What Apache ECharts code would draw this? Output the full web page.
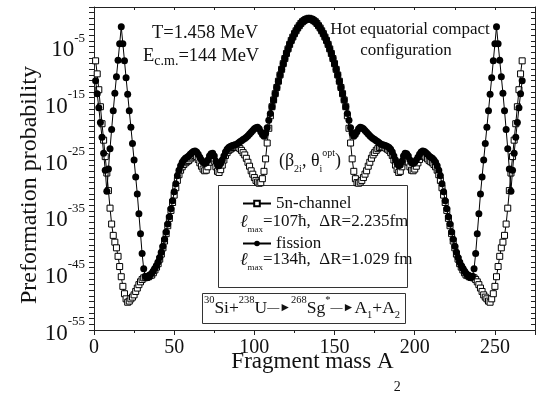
<!DOCTYPE html>
<html>
<head>
<meta charset="utf-8">
<script src="https://cdn.jsdelivr.net/npm/echarts@6/dist/echarts.min.js"></script>
<style>
  html, body { margin: 0; padding: 0; background: #fff; }
  #chart { width: 536px; height: 394px; }
</style>
</head>
<body>
<div id="chart"></div>
<script>
// fragment mass A2 of the first point, the others follow at every integer mass
const firstMass = 1;

// log10 of the preformation probability, 5n-channel (open squares)
const logP5n = [
  -7.5, -9.8, -12.6, -15.6, -18.6, -21.5, -24.4, -27.3, -30.4, -33.5,
  -36.3, -38.3, -39.5, -40.5, -42.0, -43.8, -45.6, -47.3, -48.6, -49.5,
  -50.1, -49.9, -49.5, -49.2, -48.8, -48.2, -47.6, -47.0, -46.5, -46.1,
  -45.8, -45.7, -45.7, -45.6, -45.4, -45.3, -44.9, -44.4, -43.9, -43.3,
  -42.5, -41.6, -40.5, -39.3, -38.0, -36.6, -35.3, -33.9, -32.5, -31.2,
  -29.9, -28.6, -27.6, -26.8, -26.2, -25.8, -25.5, -25.3, -25.1, -24.8,
  -24.5, -24.3, -24.2, -24.4, -24.9, -25.5, -26.1, -26.6, -26.9, -26.8,
  -26.2, -25.4, -24.8, -24.7, -25.2, -26.2, -27.0, -27.2, -26.7, -25.9,
  -25.0, -24.2, -23.7, -23.3, -23.1, -22.9, -22.8, -22.7, -22.7, -22.8,
  -23.0, -23.3, -23.7, -24.1, -24.7, -25.4, -26.1, -26.9, -27.5, -28.1,
  -28.6, -28.9, -29.1, -29.0, -28.3, -27.0, -24.8, -22.0, -19.4, -17.2,
  -15.6, -14.4, -13.3, -12.2, -11.1, -10.0, -9.0, -8.0, -7.1, -6.2,
  -5.4, -4.6, -3.9, -3.3, -2.7, -2.2, -1.7, -1.3, -0.9, -0.6,
  -0.4, -0.2, -0.1, 0.0, -0.1, -0.2, -0.4, -0.6, -0.9, -1.3,
  -1.7, -2.2, -2.7, -3.3, -3.9, -4.6, -5.4, -6.2, -7.1, -8.0,
  -9.0, -10.0, -11.1, -12.2, -13.3, -14.4, -15.6, -17.2, -19.4, -22.0,
  -24.8, -27.0, -28.3, -29.0, -29.1, -28.9, -28.6, -28.1, -27.5, -26.9,
  -26.1, -25.4, -24.7, -24.1, -23.7, -23.3, -23.0, -22.8, -22.7, -22.7,
  -22.8, -22.9, -23.1, -23.3, -23.7, -24.2, -25.0, -25.9, -26.7, -27.2,
  -27.0, -26.2, -25.2, -24.7, -24.8, -25.4, -26.2, -26.8, -26.9, -26.6,
  -26.1, -25.5, -24.9, -24.4, -24.2, -24.3, -24.5, -24.8, -25.1, -25.3,
  -25.5, -25.8, -26.2, -26.8, -27.6, -28.6, -29.9, -31.2, -32.5, -33.9,
  -35.3, -36.6, -38.0, -39.3, -40.5, -41.6, -42.5, -43.3, -43.9, -44.4,
  -44.9, -45.3, -45.4, -45.6, -45.7, -45.7, -45.8, -46.1, -46.5, -47.0,
  -47.6, -48.2, -48.8, -49.2, -49.5, -49.9, -50.1, -49.5, -48.6, -47.3,
  -45.6, -43.8, -42.0, -40.5, -39.5, -38.3, -36.3, -33.5, -30.4, -27.3,
  -24.4, -21.5, -18.6, -15.6, -12.6, -9.8, -7.5
];

// log10 of the preformation probability, fission (filled circles)
const logPFission = [
  -11.0, -13.3, -15.8, -18.4, -21.0, -23.8, -26.8, -30.5, -26.6, -23.0,
  -19.6, -16.3, -13.2, -10.3, -7.4, -4.5, -1.5, -4.5, -7.5, -10.5,
  -13.4, -16.3, -19.2, -22.1, -25.0, -28.0, -31.0, -34.5, -38.0, -41.5,
  -44.2, -45.5, -45.8, -45.6, -45.3, -45.0, -44.6, -44.1, -43.6, -43.0,
  -42.2, -41.3, -40.2, -39.0, -37.7, -36.3, -35.0, -33.6, -32.2, -30.6,
  -29.2, -27.8, -26.8, -26.0, -25.4, -25.0, -24.7, -24.5, -24.3, -24.0,
  -23.7, -23.5, -23.4, -23.6, -24.0, -24.5, -25.0, -25.4, -25.6, -25.5,
  -25.0, -24.3, -23.9, -23.8, -24.3, -25.2, -25.9, -26.0, -25.6, -25.0,
  -24.3, -23.6, -23.1, -22.8, -22.6, -22.5, -22.4, -22.3, -22.2, -22.0,
  -21.8, -21.6, -21.4, -21.2, -21.0, -20.7, -20.4, -20.1, -19.8, -19.5,
  -19.3, -19.2, -19.5, -20.0, -20.5, -20.8, -20.3, -19.3, -18.0, -16.8,
  -15.6, -14.4, -13.3, -12.2, -11.1, -10.0, -9.0, -8.0, -7.1, -6.2,
  -5.4, -4.6, -3.9, -3.3, -2.7, -2.2, -1.7, -1.3, -0.9, -0.6,
  -0.4, -0.2, -0.1, 0.0, -0.1, -0.2, -0.4, -0.6, -0.9, -1.3,
  -1.7, -2.2, -2.7, -3.3, -3.9, -4.6, -5.4, -6.2, -7.1, -8.0,
  -9.0, -10.0, -11.1, -12.2, -13.3, -14.4, -15.6, -16.8, -18.0, -19.3,
  -20.3, -20.8, -20.5, -20.0, -19.5, -19.2, -19.3, -19.5, -19.8, -20.1,
  -20.4, -20.7, -21.0, -21.2, -21.4, -21.6, -21.8, -22.0, -22.2, -22.3,
  -22.4, -22.5, -22.6, -22.8, -23.1, -23.6, -24.3, -25.0, -25.6, -26.0,
  -25.9, -25.2, -24.3, -23.8, -23.9, -24.3, -25.0, -25.5, -25.6, -25.4,
  -25.0, -24.5, -24.0, -23.6, -23.4, -23.5, -23.7, -24.0, -24.3, -24.5,
  -24.7, -25.0, -25.4, -26.0, -26.8, -27.8, -29.2, -30.6, -32.2, -33.6,
  -35.0, -36.3, -37.7, -39.0, -40.2, -41.3, -42.2, -43.0, -43.6, -44.1,
  -44.6, -45.0, -45.3, -45.6, -45.8, -45.5, -44.2, -41.5, -38.0, -34.5,
  -31.0, -28.0, -25.0, -22.1, -19.2, -16.3, -13.4, -10.5, -7.5, -4.5,
  -1.5, -4.5, -7.4, -10.3, -13.2, -16.3, -19.6, -23.0, -26.6, -30.5,
  -26.8, -23.8, -21.0, -18.4, -15.8, -13.3, -11.0
];

const seriesNames = ["5n-channel", "fission"];
const xTickLabels = [0, 50, 100, 150, 200, 250];
const yLabelExponents = [-55, -45, -35, -25, -15, -5];

const FONT = "Liberation Serif";
const INK = "#111";

const toPoints = (values) => values.map((v, i) => [firstMass + i, v]);

const chart = echarts.init(document.getElementById("chart"));

const frameAxis = {
    axisLine: { show: true, onZero: false, lineStyle: { color: "#222", width: 1 } },
    splitLine: { show: false },
    axisLabel: { show: false },
};

const option = {
    animation: false,
    backgroundColor: "#fff",
    grid: { left: 94, right: 1, top: 7, bottom: 64, containLabel: false, outerBoundsMode: "none" },
    xAxis: [
        {
            type: "value",
            position: "bottom",
            min: 0,
            max: 275,
            interval: 50,
            axisLine: { show: true, onZero: false, lineStyle: { color: "#222", width: 1 } },
            axisTick: { show: true, length: 5, lineStyle: { color: "#222" } },
            minorTick: { show: true, splitNumber: 2, length: 3, lineStyle: { color: "#222" } },
            splitLine: { show: false },
            axisLabel: {
                margin: 8,
                fontSize: 20,
                fontFamily: FONT,
                color: INK,
                formatter: (v) => (xTickLabels.includes(v) ? String(v) : ""),
            },
        },
        {
            ...frameAxis,
            type: "value",
            position: "top",
            min: 0,
            max: 275,
            interval: 25,
            axisTick: { show: true, inside: true, length: 3, lineStyle: { color: "#222" } },
        },
    ],
    yAxis: [
        {
            type: "value",
            position: "left",
            min: -55,
            max: 2,
            interval: 1,
            axisLine: { show: true, onZero: false, lineStyle: { color: "#222", width: 1 } },
            axisTick: { show: true, length: 5, lineStyle: { color: "#222" } },
            splitLine: { show: false },
            axisLabel: {
                margin: 9,
                color: INK,
                formatter: (v) => {
                    const e = Math.round(v);
                    return yLabelExponents.includes(e) ? "{b|10}{s|" + e + "}" : "";
                },
                rich: {
                    b: { fontSize: 23, fontFamily: FONT, color: INK, lineHeight: 30, verticalAlign: "bottom" },
                    s: { fontSize: 13, fontFamily: FONT, color: INK, lineHeight: 13, verticalAlign: "top" },
                },
            },
        },
        {
            ...frameAxis,
            type: "value",
            position: "right",
            min: -55,
            max: 2,
            interval: 1,
            axisTick: { show: true, inside: true, length: 4, lineStyle: { color: "#222" } },
        },
    ],
    legend: {
        orient: "vertical",
        left: 237,
        top: 190,
        itemGap: 23,
        itemWidth: 28,
        itemHeight: 7,
        z: 20,
        textStyle: { fontSize: 17, fontFamily: FONT, color: INK },
        data: seriesNames,
    },
    series: [
        {
            name: seriesNames[0],
            type: "line",
            z: 2,
            data: toPoints(logP5n),
            symbol: "rect",
            symbolSize: 6,
            showSymbol: true,
            lineStyle: { color: "#000", width: 1 },
            itemStyle: { color: "#fff", borderColor: "#000", borderWidth: 1 },
            emphasis: { disabled: true },
        },
        {
            name: seriesNames[1],
            type: "line",
            z: 3,
            data: toPoints(logPFission),
            symbol: "circle",
            symbolSize: 7,
            showSymbol: true,
            lineStyle: { color: "#000", width: 1 },
            itemStyle: { color: "#000" },
            emphasis: { disabled: true },
        },
    ],
    graphic: {
        z: 10,
        elements: [
            {
                type: "rect",
                shape: { x: 218.5, y: 185.5, width: 189, height: 102 },
                style: { fill: "#fff", stroke: "#333", lineWidth: 1 },
            },
            {
                type: "rect",
                shape: { x: 202.5, y: 293.5, width: 203, height: 30 },
                style: { fill: "#fff", stroke: "#333", lineWidth: 1 },
            },
            {
                type: "text",
                x: 152,
                y: 33,
                style: { text: "T=1.458 MeV", fontSize: 18.5, fontFamily: FONT, fill: INK, verticalAlign: "middle" },
            },
            {
                type: "text",
                x: 143,
                y: 56,
                style: {
                    text: "{n|E}{c|c.m.}{n|=144 MeV}",
                    verticalAlign: "middle",
                    rich: {
                        n: { fontSize: 18.5, fontFamily: FONT, fill: INK, lineHeight: 24 },
                        c: { fontSize: 14, fontFamily: FONT, fill: INK, lineHeight: 14, verticalAlign: "bottom" },
                    },
                },
            },
            {
                type: "text",
                x: 410,
                y: 30,
                style: { text: "Hot equatorial compact", fontSize: 17, fontFamily: FONT, fill: INK, align: "center", verticalAlign: "middle" },
            },
            {
                type: "text",
                x: 406,
                y: 51,
                style: { text: "configuration", fontSize: 17, fontFamily: FONT, fill: INK, align: "center", verticalAlign: "middle" },
            },
            {
                type: "text",
                x: 310,
                y: 161,
                style: {
                    text: "{n|(β}{b|2i}{n|, θ}{b|i}{p|opt}{n|)}",
                    align: "center",
                    verticalAlign: "middle",
                    rich: {
                        n: { fontSize: 18, fontFamily: FONT, fill: INK, lineHeight: 26 },
                        b: { fontSize: 10, fontFamily: FONT, fill: INK, lineHeight: 10, verticalAlign: "bottom" },
                        p: { fontSize: 10, fontFamily: FONT, fill: INK, lineHeight: 10, verticalAlign: "top" },
                    },
                },
            },
            {
                type: "text",
                x: 240,
                y: 222,
                style: {
                    text: "{l|ℓ}{m|max}{n|=107ħ,  ΔR=2.235fm}",
                    verticalAlign: "middle",
                    rich: {
                        l: { fontSize: 18, fontFamily: FONT, fontStyle: "italic", fill: INK, lineHeight: 24 },
                        m: { fontSize: 9, fontFamily: FONT, fill: INK, lineHeight: 9, verticalAlign: "bottom" },
                        n: { fontSize: 17, fontFamily: FONT, fill: INK, lineHeight: 24 },
                    },
                },
            },
            {
                type: "text",
                x: 240,
                y: 260,
                style: {
                    text: "{l|ℓ}{m|max}{n|=134ħ,  ΔR=1.029 fm}",
                    verticalAlign: "middle",
                    rich: {
                        l: { fontSize: 18, fontFamily: FONT, fontStyle: "italic", fill: INK, lineHeight: 24 },
                        m: { fontSize: 9, fontFamily: FONT, fill: INK, lineHeight: 9, verticalAlign: "bottom" },
                        n: { fontSize: 17, fontFamily: FONT, fill: INK, lineHeight: 24 },
                    },
                },
            },
            {
                type: "text",
                x: 302,
                y: 308,
                style: {
                    text: "{p|30}{n|Si+}{p|238}{n|U}{a|\u2014\u25BA}{p|268}{n|Sg}{p|*}{a|\u2014\u25BA}{n|A}{b|1}{n|+A}{b|2}",
                    align: "center",
                    verticalAlign: "middle",
                    rich: {
                        n: { fontSize: 17.5, fontFamily: FONT, fill: INK, lineHeight: 26 },
                        p: { fontSize: 10.5, fontFamily: FONT, fill: INK, lineHeight: 10, verticalAlign: "top" },
                        b: { fontSize: 10.5, fontFamily: FONT, fill: INK, lineHeight: 10, verticalAlign: "bottom" },
                        a: { fontSize: 12, fontFamily: FONT, fill: INK, lineHeight: 26 },
                    },
                },
            },
            {
                type: "text",
                x: 30,
                y: 185,
                rotation: Math.PI / 2,
                style: { text: "Preformation probability", fontSize: 24, fontFamily: FONT, fill: INK, align: "center", verticalAlign: "middle" },
            },
            {
                type: "text",
                x: 316,
                y: 372,
                style: {
                    text: "{n|Fragment mass A}{b|2}",
                    align: "center",
                    verticalAlign: "middle",
                    rich: {
                        n: { fontSize: 23, fontFamily: FONT, fill: INK, lineHeight: 44, verticalAlign: "top" },
                        b: { fontSize: 14, fontFamily: FONT, fill: INK, lineHeight: 14, verticalAlign: "bottom" },
                    },
                },
            },
        ],
    },
};

chart.setOption(option);

window.addEventListener("resize", () => {
    chart.resize();
});
</script>
</body>
</html>
